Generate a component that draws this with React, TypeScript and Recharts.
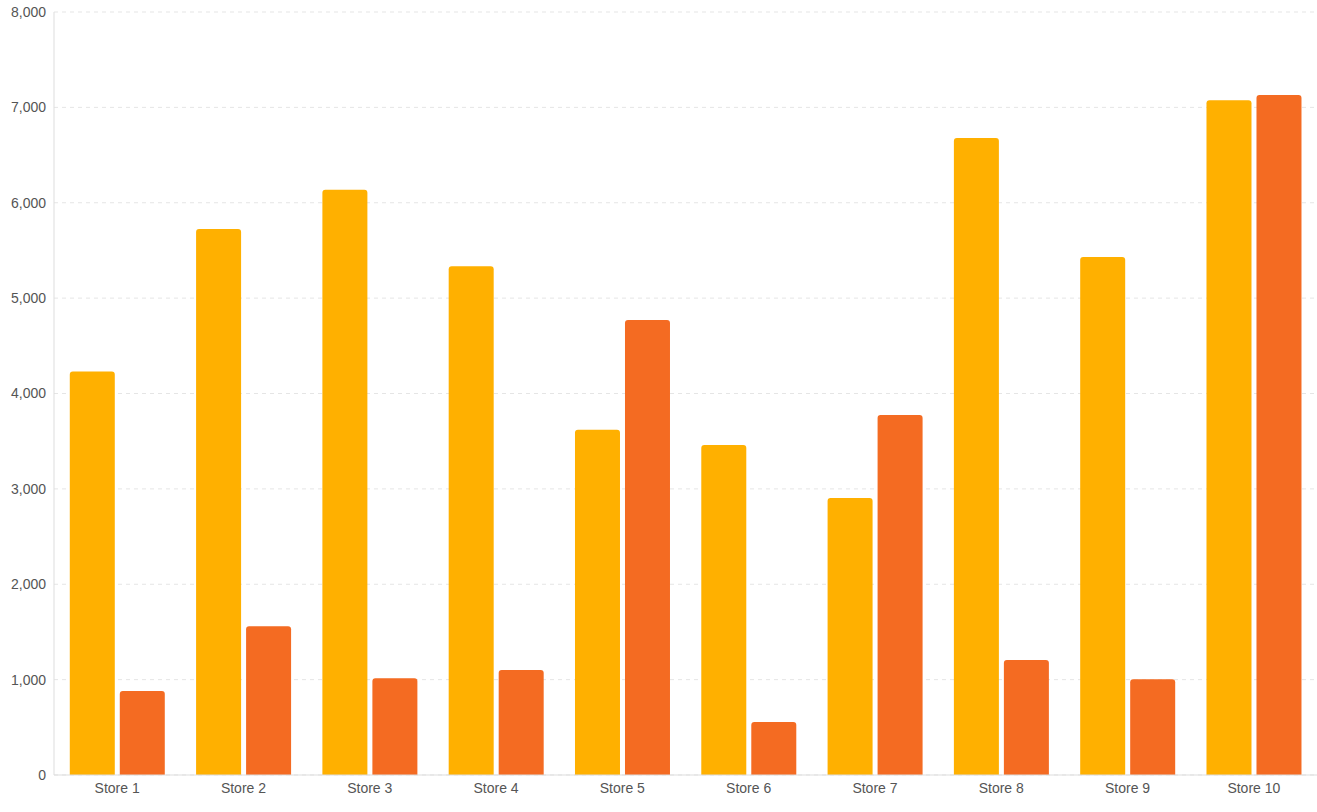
import { BarChart, Bar, XAxis, YAxis, CartesianGrid } from "recharts";

const stores = ["Store 1", "Store 2", "Store 3", "Store 4", "Store 5", "Store 6", "Store 7", "Store 8", "Store 9", "Store 10"];
const seriesA = [4230, 5725, 6135, 5335, 3620, 3460, 2905, 6680, 5430, 7075];
const seriesB = [880, 1560, 1015, 1100, 4770, 555, 3775, 1205, 1005, 7130];
const yTicks = [0, 1000, 2000, 3000, 4000, 5000, 6000, 7000, 8000];

const data = stores.map((name, i) => ({ name, a: seriesA[i], b: seriesB[i] }));

export default function App() {
  return (
    <div style={{ position: "absolute", left: 0, top: 0, fontFamily: "Liberation Sans, Arial, sans-serif" }}>
      <BarChart
        width={1317}
        height={812}
        data={data}
        margin={{ top: 12, right: 0, left: 0, bottom: 7 }}
        barCategoryGap="12.5%"
        barGap={5}
      >
        <CartesianGrid vertical={false} strokeDasharray="4 4" stroke="#e5e5e5" />
        <XAxis
          dataKey="name"
          tick={{ fontSize: 14, fill: "#555" }}
          tickLine={false}
          axisLine={{ stroke: "#ddd" }}
          height={30}
        />
        <YAxis
          ticks={yTicks}
          domain={[0, 8000]}
          tickFormatter={(v: number) => v.toLocaleString("en-US")}
          tick={{ fontSize: 14, fill: "#555" }}
          tickLine={false}
          axisLine={{ stroke: "#ddd" }}
          width={54}
        />
        <Bar dataKey="a" fill="#FFB000" radius={[3, 3, 0, 0]} isAnimationActive={false} />
        <Bar dataKey="b" fill="#F46B22" radius={[3, 3, 0, 0]} isAnimationActive={false} />
      </BarChart>
    </div>
  );
}
